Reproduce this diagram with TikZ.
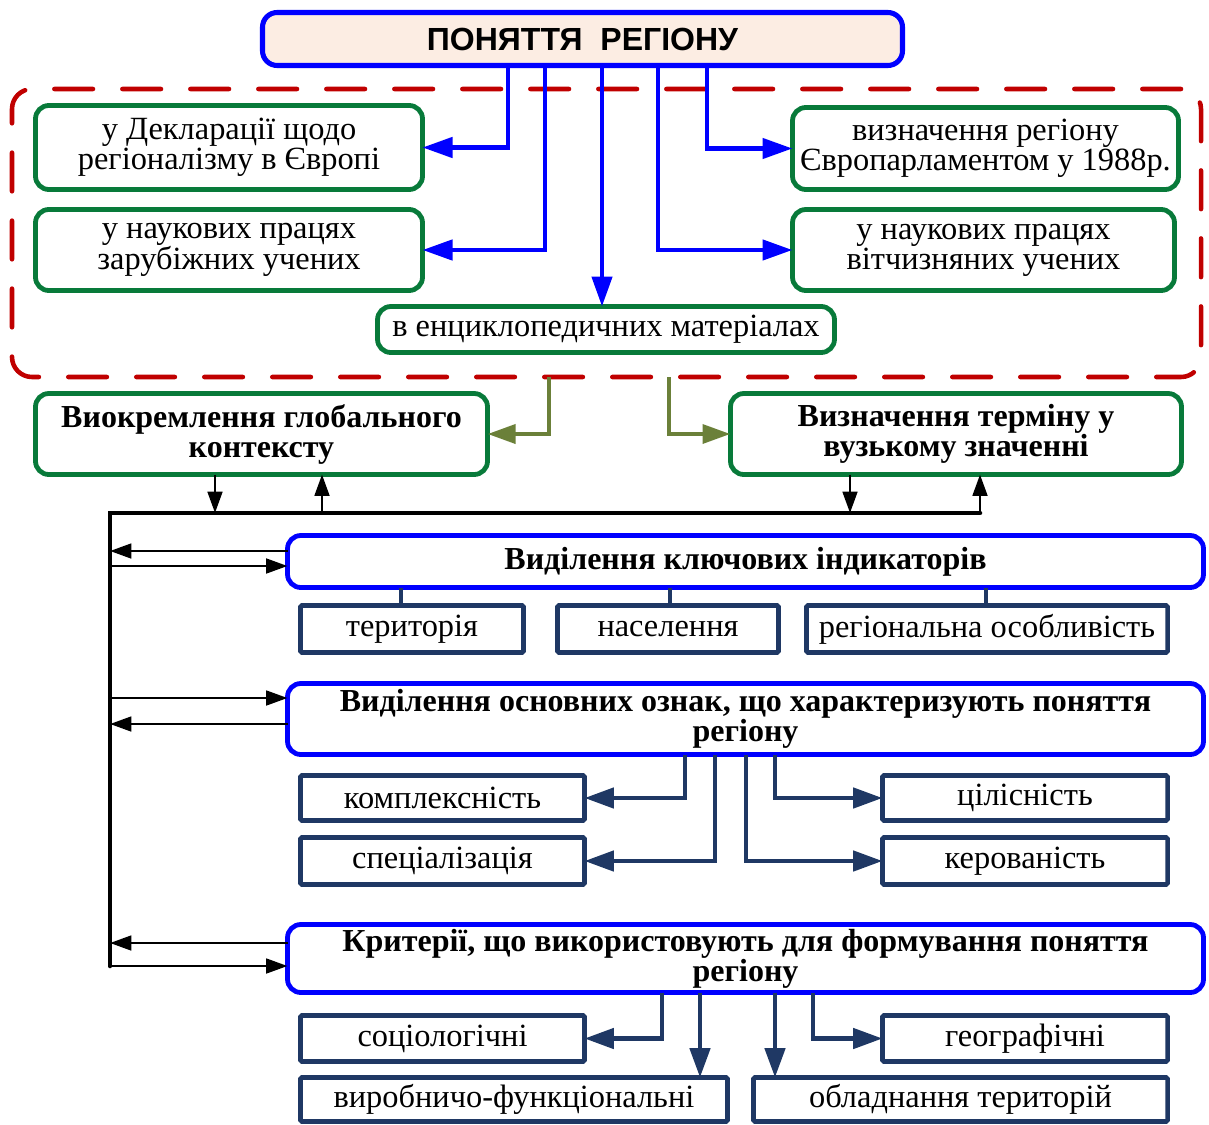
\documentclass[tikz,border=0pt]{standalone}
\usepackage{fontspec}
\setmainfont{Liberation Serif}
\newfontfamily\titlefont{Liberation Sans}
\usetikzlibrary{arrows.meta}
\definecolor{bgreen}{HTML}{087A3A}
\definecolor{dred}{HTML}{C00000}
\definecolor{olivec}{HTML}{6B8039}
\definecolor{navy}{HTML}{1F3864}
\definecolor{peach}{HTML}{FCEDE3}
\definecolor{pblue}{HTML}{0000FF}
\begin{document}
\begin{tikzpicture}[x=0.75pt,y=-0.75pt,
  every node/.style={inner sep=0pt, outer sep=0pt, align=center},
  txt/.style={font=\fontsize{24.3}{21}\selectfont},
  btxt/.style={font=\fontsize{24}{22.5}\selectfont\bfseries},
  titlebox/.style={draw=pblue, fill=peach, line width=3.8pt, rounded corners=11pt, font=\fontsize{24}{24}\selectfont\titlefont\bfseries},
  greenbox/.style={draw=bgreen, line width=3.6pt, rounded corners=10pt, txt},
  greenbold/.style={greenbox, btxt},
  bluebox/.style={draw=pblue, line width=3.6pt, rounded corners=10pt, btxt},
  navybox/.style={draw=navy, line width=3.4pt, rounded corners=1pt, txt},
  regionbox/.style={draw=dred, line width=3.4pt, dash pattern=on 29pt off 22pt, line cap=round, rounded corners=15pt},
  bluearr/.style={draw=pblue, line width=3.4pt, -{Triangle[length=22.5pt,width=15pt]}},
  olivearr/.style={draw=olivec, line width=3.4pt, -{Triangle[length=21pt,width=14pt]}},
  navyarr/.style={draw=navy, line width=3.4pt, -{Triangle[length=22pt,width=15pt]}},
  navyline/.style={draw=navy, line width=3.4pt},
  thinarr/.style={draw=black, line width=2pt, -{Triangle[length=16pt,width=11pt]}},
  busline/.style={draw=black, line width=3.4pt, line cap=round}
]
\useasboundingbox (0,0) rectangle (1209,1124);

% region of definitions
\node[regionbox, minimum width=891.75pt, minimum height=216pt] (reg) at (606.5,233) {};

% title
\node[titlebox, minimum width=480pt, minimum height=39.75pt] (title) at (582.5,39) {ПОНЯТТЯ\ \ РЕГІОНУ};

% green boxes
\node[greenbox, minimum width=290.25pt, minimum height=63pt] (b1) at (229,147.5) {у Декларації щодо\\регіоналізму в Європі};
\node[greenbox, minimum width=290.25pt, minimum height=60.75pt] (b2) at (229,250) {у наукових працях\\зарубіжних учених};
\node[greenbox, minimum width=289.5pt, minimum height=61.5pt] (b3) at (985.5,148.5) {визначення регіону\\Європарламентом у 1988р.};
\node[greenbox, minimum width=286.5pt, minimum height=60.75pt] (b4) at (983.5,250) {у наукових працях\\вітчизняних учених};
\node[greenbox, minimum width=342.75pt, minimum height=34.5pt] (b5) at (606,329.5) {в енциклопедичних матеріалах};

% blue arrows
\coordinate (xa) at (508,0);
\coordinate (xb) at (545,0);
\coordinate (xc) at (602,0);
\coordinate (xd) at (658,0);
\coordinate (xe) at (707,0);
\draw[bluearr] (title.south -| xa) |- (b1.east);
\draw[bluearr] (title.south -| xb) |- (b2.east);
\draw[bluearr] (title.south -| xc) -- (b5.north -| xc);
\draw[bluearr] (title.south -| xd) |- (b4.west);
\draw[bluearr] (title.south -| xe) |- (b3.west);

% global / narrow boxes
\node[greenbold, minimum width=339pt, minimum height=60.75pt] (b6) at (261.5,434) {Виокремлення глобального\\контексту};
\node[greenbold, minimum width=338.25pt, minimum height=60.75pt] (b7) at (956,434) {Визначення терміну у\\вузькому значенні};
\coordinate (o1) at (549,0);
\coordinate (o2) at (669,0);
\draw[olivearr] (reg.south -| o1) |- (b6.east);
\draw[olivearr] (reg.south -| o2) |- (b7.west);

% bus
\coordinate (busTL) at (110,513);
\coordinate (busBL) at (110,966);
\coordinate (busR) at (980,513);
\draw[busline] (busR) -- (busTL) -- (busBL);
\coordinate (j1) at (215,513);
\coordinate (j2) at (322,513);
\coordinate (j3) at (850,513);
\coordinate (j4) at (980,513);
\draw[thinarr] (b6.south -| j1) -- (j1);
\draw[thinarr] (j2) -- (b6.south -| j2);
\draw[thinarr] (b7.south -| j3) -- (j3);
\draw[thinarr] (j4) -- (b7.south -| j4);

% key indicators
\node[bluebox, minimum width=687pt, minimum height=39pt] (k1) at (745.5,561.5) {Виділення ключових індикаторів};
\node[navybox, minimum width=167.25pt, minimum height=35.25pt] (i1) at (412,629) {територія};
\node[navybox, minimum width=165.75pt, minimum height=35.25pt] (i2) at (668,629) {населення};
\node[navybox, minimum width=270.75pt, minimum height=35.25pt] (i3) at (987,629) {регіональна особливість};
\coordinate (n1) at (401,0);
\coordinate (n2) at (670,0);
\coordinate (n3) at (986,0);
\draw[navyline] (k1.south -| n1) -- (i1.north -| n1);
\draw[navyline] (k1.south -| n2) -- (i2.north -| n2);
\draw[navyline] (k1.south -| n3) -- (i3.north -| n3);

% main features
\node[bluebox, minimum width=687pt, minimum height=53.25pt] (k2) at (745.5,719) {Виділення основних ознак, що характеризують поняття\\регіону};
\node[navybox, minimum width=213pt, minimum height=33.75pt] (f1) at (442.5,798) {комплексність};
\node[navybox, minimum width=213pt, minimum height=35.25pt] (f2) at (442.5,861) {спеціалізація};
\node[navybox, minimum width=213.75pt, minimum height=33.75pt] (f3) at (1025,798) {цілісність};
\node[navybox, minimum width=213.75pt, minimum height=35.25pt] (f4) at (1025,861) {керованість};
\coordinate (m1) at (685,0);
\coordinate (m2) at (715,0);
\coordinate (m3) at (746,0);
\coordinate (m4) at (775,0);
\draw[navyarr] (k2.south -| m1) |- (f1.east);
\draw[navyarr] (k2.south -| m2) |- (f2.east);
\draw[navyarr] (k2.south -| m3) |- (f4.west);
\draw[navyarr] (k2.south -| m4) |- (f3.west);

% criteria
\node[bluebox, minimum width=687pt, minimum height=51pt] (k3) at (745.5,958.5) {Критерії, що використовують для формування поняття\\регіону};
\node[navybox, minimum width=213pt, minimum height=34.5pt] (c1) at (442.5,1038.5) {соціологічні};
\node[navybox, minimum width=213.75pt, minimum height=34.5pt] (c2) at (1025,1038.5) {географічні};
\node[navybox, minimum width=320.25pt, minimum height=33pt] (c3) at (514,1099.5) {виробничо-функціональні};
\node[navybox, minimum width=310.5pt, minimum height=33pt] (c4) at (960.5,1099.5) {обладнання територій};
\coordinate (q1) at (662,0);
\coordinate (q2) at (700,0);
\coordinate (q3) at (775,0);
\coordinate (q4) at (813,0);
\draw[navyarr] (k3.south -| q1) |- (c1.east);
\draw[navyarr] (k3.south -| q2) -- (c3.north -| q2);
\draw[navyarr] (k3.south -| q3) -- (c4.north -| q3);
\draw[navyarr] (k3.south -| q4) |- (c2.west);

% links between bus and blocks
\coordinate (h1) at (110,551);
\coordinate (h2) at (110,566);
\coordinate (h3) at (110,698);
\coordinate (h4) at (110,724);
\coordinate (h5) at (110,943);
\coordinate (h6) at (110,966);
\draw[thinarr] (k1.west |- h1) -- (h1);
\draw[thinarr] (h2) -- (k1.west |- h2);
\draw[thinarr] (h3) -- (k2.west |- h3);
\draw[thinarr] (k2.west |- h4) -- (h4);
\draw[thinarr] (k3.west |- h5) -- (h5);
\draw[thinarr] (h6) -- (k3.west |- h6);
\end{tikzpicture}
\end{document}
